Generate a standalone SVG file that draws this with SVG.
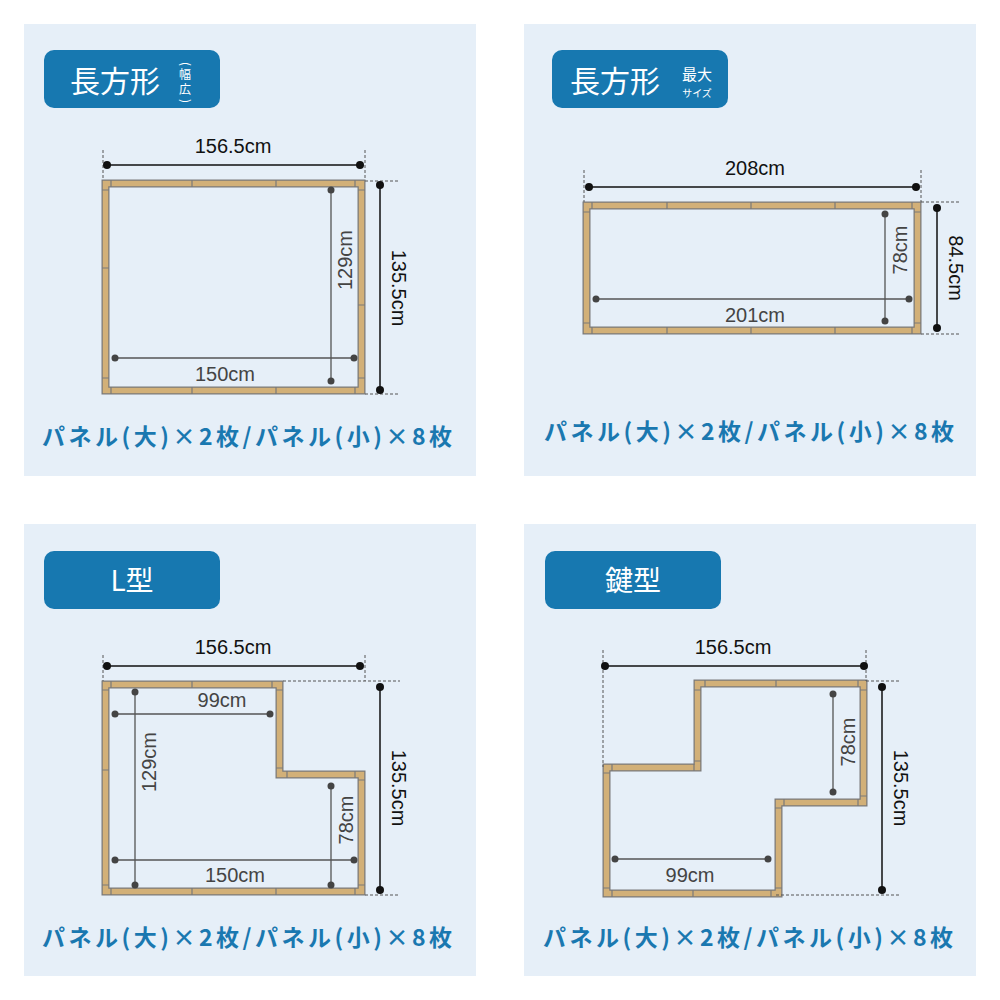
<svg xmlns="http://www.w3.org/2000/svg" width="1000" height="1000" viewBox="0 0 1000 1000">
<style>
.bg{fill:#e6eff8}
.badge{fill:#1778b0}
.tt{fill:#fff;font-family:"Noto Sans CJK JP","Noto Sans",sans-serif}
.fo{fill:none;stroke:#7a7a7a;stroke-width:8;stroke-linejoin:miter}
.fi{fill:none;stroke:#d2b078;stroke-width:5.5;stroke-linejoin:miter}
.j{stroke:#7a7a7a;stroke-width:1.2}
.dl{stroke:#111;stroke-width:1.5}
.dd{stroke:#555;stroke-width:1;stroke-dasharray:3 2}
.il{stroke:#555;stroke-width:1.3}
.bd{fill:#111}
.gd{fill:#444}
.lb{font-family:"Liberation Sans","Noto Sans",sans-serif;font-size:20px;fill:#111;text-anchor:middle}
.gl{font-family:"Liberation Sans","Noto Sans",sans-serif;font-size:20px;fill:#444;text-anchor:middle}
.cap{font-family:"Noto Sans CJK JP",sans-serif;font-size:23px;font-weight:bold;fill:#1a78b0}
</style>
<rect width="1000" height="1000" fill="#fff"/>
<rect class="bg" x="24" y="24" width="452" height="452"/>
<rect class="bg" x="524" y="24" width="452" height="452"/>
<rect class="bg" x="24" y="524" width="452" height="452"/>
<rect class="bg" x="524" y="524" width="452" height="452"/>

<g id="p1">
<rect class="badge" x="44" y="50" width="176" height="58" rx="10"/>
<text class="tt" x="70" y="92" font-size="30">長方形</text>
<text class="tt" font-size="12" text-anchor="middle" transform="translate(181,64) rotate(90)">(</text>
<text class="tt" x="185" y="79" font-size="12" text-anchor="middle">幅</text>
<text class="tt" x="185" y="94" font-size="12" text-anchor="middle">広</text>
<text class="tt" font-size="12" text-anchor="middle" transform="translate(181,101) rotate(90)">)</text>
<rect class="fo" x="105.5" y="183.5" width="256" height="207"/>
<rect class="fi" x="105.5" y="183.5" width="256" height="207"/>
<path class="j" d="M111 180v7M192 180v7M276 180v7M355 180v7M111 387v7M192 387v7M276 387v7M355 387v7M102 190h7M102 268h7M102 378h7M358 190h7M358 305h7M358 378h7"/>
<text class="cap" x="42" y="445" textLength="410">パネル(大)×2枚/パネル(小)×8枚</text>
</g>
<g id="p2">
<rect class="badge" x="552" y="50" width="176" height="58" rx="10"/>
<text class="tt" x="570" y="92" font-size="30">長方形</text>
<text class="tt" x="697" y="80" font-size="15" text-anchor="middle">最大</text>
<text class="tt" x="697" y="97" font-size="10" text-anchor="middle">サイズ</text>
<rect class="fo" x="586.5" y="205.5" width="331" height="125"/>
<rect class="fi" x="586.5" y="205.5" width="331" height="125"/>
<path class="j" d="M592 202v7M667 202v7M751 202v7M835 202v7M912 202v7M592 327v7M667 327v7M751 327v7M835 327v7M912 327v7M583 212h7M583 323h7M914 212h7M914 323h7"/>
<text class="cap" x="544" y="440" textLength="410">パネル(大)×2枚/パネル(小)×8枚</text>
</g>
<g id="p3">
<rect class="badge" x="44" y="551" width="176" height="58" rx="10"/>
<text class="tt" x="132" y="591" font-size="28" text-anchor="middle">L型</text>
<polygon class="fo" points="105.5,684.5 279.5,684.5 279.5,774.5 361.5,774.5 361.5,891.5 105.5,891.5"/>
<polygon class="fi" points="105.5,684.5 279.5,684.5 279.5,774.5 361.5,774.5 361.5,891.5 105.5,891.5"/>
<path class="j" d="M111 681v7M192 681v7M272 681v7M287 771v7M355 771v7M111 888v7M192 888v7M276 888v7M355 888v7M102 690h7M102 770h7M102 885h7M276 690h7M276 768h7M358 780h7M358 885h7"/>
<text class="cap" x="42" y="946" textLength="410">パネル(大)×2枚/パネル(小)×8枚</text>
</g>
<g id="p4">
<rect class="badge" x="545" y="551" width="176" height="58" rx="10"/>
<text class="tt" x="633" y="591" font-size="28" text-anchor="middle">鍵型</text>
<polygon class="fo" points="697.5,683.5 863.5,683.5 863.5,802.5 778.5,802.5 778.5,893.5 606.5,893.5 606.5,767.5 697.5,767.5"/>
<polygon class="fi" points="697.5,683.5 863.5,683.5 863.5,802.5 778.5,802.5 778.5,893.5 606.5,893.5 606.5,767.5 697.5,767.5"/>
<path class="j" d="M705 680v7M776 680v7M858 680v7M694 764v7M612 764v7M784 799v7M858 799v7M612 890v7M693 890v7M771 890v7M603 773h7M603 888h7M694 690h7M694 761h7M860 690h7M860 796h7M775 808h7M775 888h7"/>
<text class="cap" x="543" y="946" textLength="410">パネル(大)×2枚/パネル(小)×8枚</text>
</g>

<g id="connectors">
<path class="dd" d="M103 150v30M365 150v30M365 181h35M365 394h35"/>
<path class="dl" d="M107 165h253M380 185v205"/>
<circle class="bd" cx="107" cy="165" r="4"/><circle class="bd" cx="360" cy="165" r="4"/>
<circle class="bd" cx="380" cy="185" r="4"/><circle class="bd" cx="380" cy="390" r="4"/>
<text class="lb" x="233" y="153">156.5cm</text>
<text class="lb" transform="translate(392,288) rotate(90)">135.5cm</text>
<path class="il" d="M331 190v191M115 358h239"/>
<circle class="gd" cx="331" cy="190" r="3.5"/><circle class="gd" cx="331" cy="381" r="3.5"/>
<circle class="gd" cx="115" cy="358" r="3.5"/><circle class="gd" cx="354" cy="358" r="3.5"/>
<text class="gl" transform="translate(352,260) rotate(-90)">129cm</text>
<text class="gl" x="225" y="381">150cm</text>
<path class="dd" d="M584 170v32M921 170v32M921 202h39M921 334h39"/>
<path class="dl" d="M589 187h327M937 208v120"/>
<circle class="bd" cx="589" cy="187" r="4"/><circle class="bd" cx="916" cy="187" r="4"/>
<circle class="bd" cx="937" cy="208" r="4"/><circle class="bd" cx="937" cy="328" r="4"/>
<text class="lb" x="755" y="175">208cm</text>
<text class="lb" transform="translate(949,268) rotate(90)">84.5cm</text>
<path class="il" d="M885 214v107M596 299h313"/>
<circle class="gd" cx="885" cy="214" r="3.5"/><circle class="gd" cx="885" cy="321" r="3.5"/>
<circle class="gd" cx="596" cy="299" r="3.5"/><circle class="gd" cx="909" cy="299" r="3.5"/>
<text class="gl" transform="translate(907,250) rotate(-90)">78cm</text>
<text class="gl" x="755" y="322">201cm</text>
<path class="dd" d="M103 655v26M365 655v26M283 681h117M365 895h35"/>
<path class="dl" d="M107 666h253M380 687v203"/>
<circle class="bd" cx="107" cy="666" r="4"/><circle class="bd" cx="360" cy="666" r="4"/>
<circle class="bd" cx="380" cy="687" r="4"/><circle class="bd" cx="380" cy="890" r="4"/>
<text class="lb" x="233" y="654">156.5cm</text>
<text class="lb" transform="translate(392,788) rotate(90)">135.5cm</text>
<path class="il" d="M135 692v193M115 714h155M331 786v99M115 860h239"/>
<circle class="gd" cx="135" cy="692" r="3.5"/><circle class="gd" cx="135" cy="885" r="3.5"/>
<circle class="gd" cx="115" cy="714" r="3.5"/><circle class="gd" cx="270" cy="714" r="3.5"/>
<circle class="gd" cx="331" cy="786" r="3.5"/><circle class="gd" cx="331" cy="885" r="3.5"/>
<circle class="gd" cx="115" cy="860" r="3.5"/><circle class="gd" cx="354" cy="860" r="3.5"/>
<text class="gl" x="222" y="707">99cm</text>
<text class="gl" transform="translate(156,762) rotate(-90)">129cm</text>
<text class="gl" transform="translate(353,820) rotate(-90)">78cm</text>
<text class="gl" x="235" y="882">150cm</text>
<path class="dd" d="M603 650v117M866 650v31M866 681h34M776 895h124"/>
<path class="dl" d="M605 666h259M882 687v203"/>
<circle class="bd" cx="605" cy="666" r="4"/><circle class="bd" cx="864" cy="666" r="4"/>
<circle class="bd" cx="882" cy="687" r="4"/><circle class="bd" cx="882" cy="890" r="4"/>
<text class="lb" x="733" y="654">156.5cm</text>
<text class="lb" transform="translate(894,788) rotate(90)">135.5cm</text>
<path class="il" d="M833 694v98M615 859h153"/>
<circle class="gd" cx="833" cy="694" r="3.5"/><circle class="gd" cx="833" cy="792" r="3.5"/>
<circle class="gd" cx="615" cy="859" r="3.5"/><circle class="gd" cx="768" cy="859" r="3.5"/>
<text class="gl" transform="translate(855,742) rotate(-90)">78cm</text>
<text class="gl" x="690" y="882">99cm</text>
</g>
</svg>
